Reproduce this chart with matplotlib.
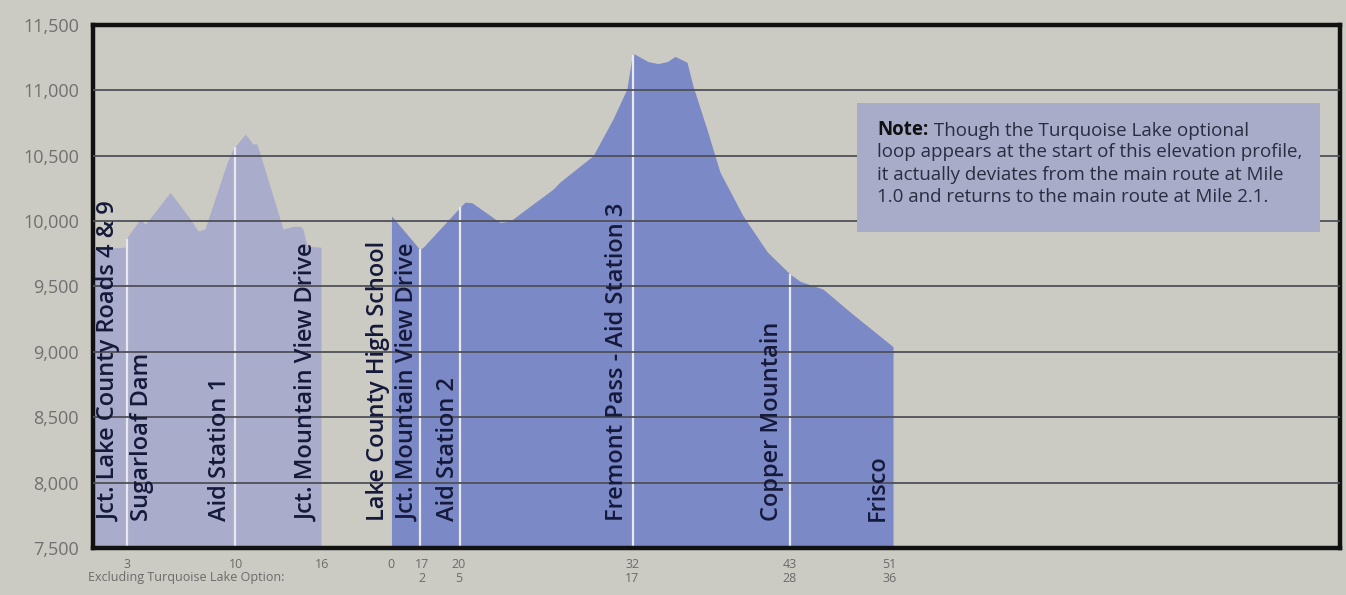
import matplotlib
matplotlib.use("Agg")
import matplotlib.pyplot as plt
import numpy as np

plt.rcParams['font.family'] = ['Open Sans', 'DejaVu Sans']

# Turquoise Lake loop (chart miles, feet)
loop_mi = [0.0, 2.3, 2.5, 3.4, 3.75, 3.95, 5.55, 7.0, 7.55, 8.05, 9.65, 10.07,
           10.94, 11.15, 11.5, 11.8, 13.67, 14.4, 14.9, 15.1, 15.4, 16.4]
loop_ft = [9790, 9800, 9885, 10015, 9977, 10000, 10220, 10015, 9925, 9940, 10450, 10550,
           10665, 10640, 10590, 10590, 9940, 9960, 9960, 9940, 9810, 9800]

# main route (miles excluding the lake option, feet)
main_start = 21.47
main_mi = [0.0, 2.03, 2.28, 4.79, 5.29, 5.8, 7.81, 8.53, 11.63, 12.13, 14.5, 15.93,
           16.93, 17.31, 17.45, 18.46, 19.18, 19.83, 20.4, 21.26, 21.7, 22.7, 23.63,
           25.29, 27.03, 28.67, 29.39, 31.05, 32.99, 36.08]
main_ft = [10040, 9785, 9800, 10090, 10145, 10140, 9990, 10000, 10245, 10300, 10500, 10780,
           11010, 11260, 11280, 11220, 11205, 11220, 11260, 11215, 11030, 10700, 10375,
           10040, 9765, 9595, 9540, 9480, 9305, 9040]

# white marker lines
loop_marks = [2.45, 10.2]
main_marks = [2.05, 4.93, 17.38, 28.67]

# landmark labels (chart position)
place_x = [1.22, 3.53, 9.14, 15.4, 20.5, 22.66, 25.54, 37.7, 48.85, 56.47]
place_names = ["Jct. Lake County Roads 4 & 9", "Sugarloaf Dam", "Aid Station 1",
               "Jct. Mountain View Drive", "Lake County High School",
               "Jct. Mountain View Drive", "Aid Station 2",
               "Fremont Pass - Aid Station 3", "Copper Mountain", "Frisco"]

# mileage ticks
tick_x = [2.45, 10.3, 16.5, 21.45, 23.7, 26.3, 38.8, 50.1, 57.3]
tick_labels = ["3", "10", "16", "0", "17\n2", "20\n5", "32\n17", "43\n28", "51\n36"]

y_ticks = [7500, 8000, 8500, 9000, 9500, 10000, 10500, 11000, 11500]

note_lines = ["loop appears at the start of this elevation profile,",
              "it actually deviates from the main route at Mile",
              "1.0 and returns to the main route at Mile 2.1."]

bg = '#CBCBC4'
navy = '#15193A'

fig = plt.figure(figsize=(13.46, 5.95), dpi=100, facecolor=bg)
ax = fig.add_axes([0.0691, 0.079, 0.9264, 0.879])
ax.set_facecolor(bg)

main_x = np.array(main_mi) + main_start
ax.fill_between(loop_mi, loop_ft, 7500, color='#AAACCB', lw=0, zorder=1)
ax.fill_between(main_x, main_ft, 7500, color='#7C89C7', lw=0, zorder=1)

for m in loop_marks:
    ax.vlines(m, 7500, np.interp(m, loop_mi, loop_ft), color='#E8E8EE', lw=1.6, zorder=2)
for m in main_marks:
    ax.vlines(m + main_start, 7500, np.interp(m, main_mi, main_ft), color='#E8E8EE', lw=1.6, zorder=2)

for y in y_ticks[1:-1]:
    ax.axhline(y, color='#505058', lw=1.3, zorder=3)

for x, name in zip(place_x, place_names):
    ax.text(x, 7710, name, rotation=90, ha='center', va='bottom',
            fontsize=17, fontweight='semibold', color=navy, zorder=4)

ax.set_xlim(0, 89.7)
ax.set_ylim(7500, 11500)
ax.set_yticks(y_ticks)
ax.set_yticklabels([f"{v:,}" for v in y_ticks])
ax.set_xticks(tick_x)
ax.set_xticklabels(tick_labels, linespacing=1.15)
ax.tick_params(axis='y', length=0, pad=10, labelsize=13, labelcolor='#707070')
ax.tick_params(axis='x', length=0, pad=7, labelsize=9, labelcolor='#6A6A6A')
for s in ax.spines.values():
    s.set_linewidth(3.2)
    s.set_color('#111111')

ax.text(-0.004, -0.057, "Excluding Turquoise Lake Option:", transform=ax.transAxes,
        ha='left', va='center', fontsize=9, color='#6A6A6A')

# note box
ax.add_patch(plt.Rectangle((0.613, 0.604), 0.371, 0.247, transform=ax.transAxes,
                           facecolor='#A8ACC9', edgecolor='none', zorder=5))
note = ax.text(0.629, 0.80, "Note:", transform=ax.transAxes, fontsize=13.5,
               fontweight='bold', color='#111111', va='center', zorder=6)
ax.annotate(" Though the Turquoise Lake optional", xy=(1, 0), xycoords=note,
            va='bottom', fontsize=13.5, color='#2A2C40', zorder=6)
for i, line in enumerate(note_lines):
    ax.text(0.629, 0.80 - 0.043 * (i + 1), line, transform=ax.transAxes, fontsize=13.5,
            color='#2A2C40', va='center', zorder=6)

fig.savefig("out.png", dpi=100, facecolor=bg)
